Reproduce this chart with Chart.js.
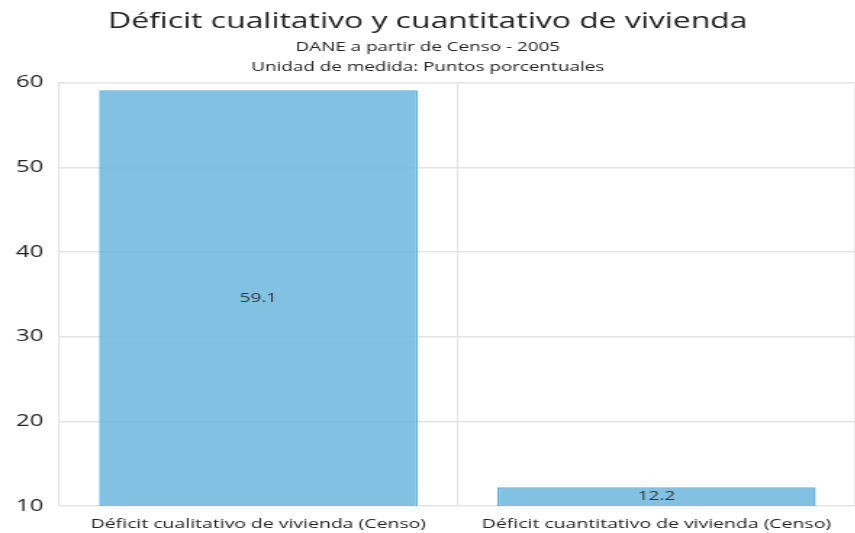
<!DOCTYPE html>
<html>
<head>
<meta charset="utf-8">
<script src="https://cdn.jsdelivr.net/npm/chart.js@4/dist/chart.umd.min.js"></script>
<style>
  html, body { margin: 0; padding: 0; background: #fff; overflow: hidden; }
  /* the reference is a horizontally stretched capture, so the chart is drawn narrow and widened */
  #wrap { width: 590px; height: 533px; transform: scaleX(1.45); transform-origin: 0 0; }
</style>
</head>
<body>
<div id="wrap"><canvas id="chart"></canvas></div>
<script>
const categories = ['Déficit cualitativo de vivienda (Censo)', 'Déficit cuantitativo de vivienda (Censo)'];
const values = [59.1, 12.2];
const yTicks = [10, 20, 30, 40, 50, 60];

const FONT = '"Open Sans", "Noto Sans", sans-serif';

// value printed in the middle of the visible part of each bar
const barLabels = {
    id: 'barLabels',
    afterDatasetsDraw(chart) {
        const ctx = chart.ctx;
        const bottom = chart.chartArea.bottom;
        ctx.save();
        ctx.font = '13px ' + FONT;
        ctx.fillStyle = '#333';
        ctx.textAlign = 'center';
        ctx.textBaseline = 'middle';
        chart.getDatasetMeta(0).data.forEach((bar, i) => {
            const mid = (bar.y + Math.min(bar.base, bottom)) / 2;
            ctx.fillText(values[i].toFixed(1), bar.x, mid);
        });
        ctx.restore();
    }
};

new Chart(document.getElementById('chart').getContext('2d'), {
    type: 'bar',
    data: {
        labels: categories,
        datasets: [{
            data: values,
            backgroundColor: 'rgba(118, 186, 224, 0.9)',
            borderColor: 'rgba(92, 176, 222, 1)',
            borderWidth: 1.5,
            categoryPercentage: 0.8,
            barPercentage: 1.0
        }]
    },
    options: {
        responsive: true,
        maintainAspectRatio: false,
        animation: false,
        layout: { padding: { left: 0, right: 0, top: 0, bottom: -9 } },
        plugins: {
            legend: { display: false },
            tooltip: { enabled: false },
            title: {
                display: true,
                text: 'Déficit cualitativo y cuantitativo de vivienda',
                color: '#222',
                font: { family: FONT, size: 22, weight: 'normal' },
                padding: { top: 9, bottom: 2 }
            },
            subtitle: {
                display: true,
                text: ['DANE a partir de Censo - 2005', 'Unidad de medida: Puntos porcentuales'],
                color: '#222',
                font: { family: FONT, size: 13, lineHeight: 1.55 },
                padding: { top: 0, bottom: 5 }
            }
        },
        scales: {
            x: {
                grid: { color: '#e4e4e4', lineWidth: 1.2, drawTicks: false },
                border: { color: '#e4e4e4' },
                ticks: {
                    color: '#222',
                    font: { family: FONT, size: 13.4 },
                    padding: 10
                }
            },
            y: {
                min: yTicks[0],
                max: yTicks[yTicks.length - 1],
                afterBuildTicks: axis => { axis.ticks = yTicks.map(v => ({ value: v })); },
                grid: { color: '#e4e4e4', lineWidth: 1.5, drawTicks: false },
                border: { color: '#e4e4e4' },
                ticks: {
                    color: '#222',
                    font: { family: FONT, size: 16.5 },
                    padding: 11
                }
            }
        }
    },
    plugins: [barLabels]
});
</script>
</body>
</html>
